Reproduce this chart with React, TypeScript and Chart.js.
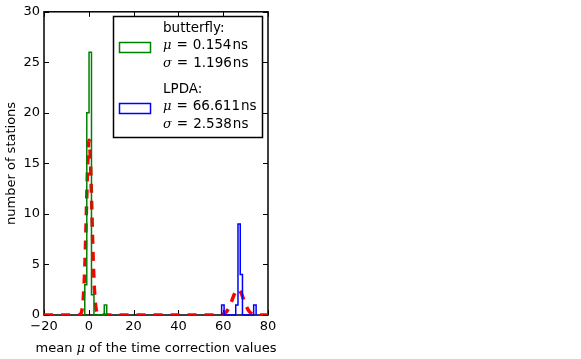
import React, { useEffect, useRef } from "react";
import { Chart, registerables } from "chart.js";

Chart.register(...registerables);

// Histogram bins (left edge, right edge, count)
const greenBinLeft = [-1.8, -0.9, 0.1, 1.2, 6.9];
const greenBinRight = [-0.9, 0.1, 1.2, 2.3, 8.0];
const greenCounts = [3, 20, 26, 2, 1];

const blueBinLeft = [59.3, 65.6, 66.6, 67.6, 73.6];
const blueBinRight = [60.4, 66.6, 67.6, 68.6, 74.7];
const blueCounts = [1, 1, 9, 4, 1];

// Red dashed fit curve
const fitX = [-20, -4.3, -3.5, -3, -2.5, -2, -1.5, -1, -0.5, 0.15, 0.8, 1.3, 1.8, 2.3, 2.8, 3.3, 3.8, 4.6, 20, 57, 60, 61, 62, 63, 64, 65, 66, 66.6, 67, 68, 69, 70, 71, 72, 73, 74.5, 80];
const fitY = [0, 0, 0.15, 0.55, 1.5, 3.5, 6.7, 10.9, 14.9, 17.3, 14.9, 10.9, 6.7, 3.5, 1.5, 0.55, 0.15, 0, 0, 0, 0.09, 0.22, 0.49, 0.92, 1.5, 2.07, 2.45, 2.52, 2.49, 2.17, 1.61, 1.03, 0.56, 0.26, 0.1, 0, 0];

const xTicks = [-20, 0, 20, 40, 60, 80];
const yTicks = [0, 5, 10, 15, 20, 25, 30];

const legendEntries = [
  { name: "butterfly:", mu: "0.154", sigma: "1.196", color: "rgb(0,128,0)" },
  { name: "LPDA:", mu: "66.611", sigma: "2.538", color: "rgb(0,0,255)" },
];

const xTitleParts = ["mean ", "\u03bc", " of the time correction values"];
const yTitle = "number of stations";

function stepOutline(left: number[], right: number[], counts: number[]) {
  const pts: { x: number; y: number }[] = [];
  pts.push({ x: left[0], y: 0 });
  for (let i = 0; i < counts.length; i++) {
    if (i > 0 && left[i] !== right[i - 1]) {
      pts.push({ x: right[i - 1], y: 0 });
      pts.push({ x: left[i], y: 0 });
    }
    pts.push({ x: left[i], y: counts[i] });
    pts.push({ x: right[i], y: counts[i] });
  }
  pts.push({ x: right[right.length - 1], y: 0 });
  return pts;
}

const SANS = "'DejaVu Sans', sans-serif";
const SERIF_IT = "italic 13px 'DejaVu Serif', serif";

const framePlugin = {
  id: "frame",
  beforeDatasetsDraw(chart: any) {
    const { ctx, chartArea: a, scales } = chart;
    ctx.save();
    ctx.strokeStyle = "#000";
    ctx.lineWidth = 1;
    const tl = 5;
    for (const v of xTicks) {
      const px = Math.round(scales.x.getPixelForValue(v)) + 0.5;
      ctx.beginPath();
      ctx.moveTo(px, a.bottom);
      ctx.lineTo(px, a.bottom - tl);
      ctx.moveTo(px, a.top);
      ctx.lineTo(px, a.top + tl);
      ctx.stroke();
    }
    for (const v of yTicks) {
      const py = Math.round(scales.y.getPixelForValue(v)) + 0.5;
      ctx.beginPath();
      ctx.moveTo(a.left, py);
      ctx.lineTo(a.left + tl, py);
      ctx.moveTo(a.right, py);
      ctx.lineTo(a.right - tl, py);
      ctx.stroke();
    }
    ctx.lineWidth = 1.5;
    ctx.strokeRect(a.left, a.top, a.right - a.left, a.bottom - a.top);
    ctx.restore();
  },
  afterDraw(chart: any) {
    const { ctx, chartArea: a } = chart;
    ctx.save();
    // axis titles
    ctx.fillStyle = "#000";
    ctx.textBaseline = "middle";
    const fonts = ["13px " + SANS, SERIF_IT, "13px " + SANS];
    let total = 0;
    const widths = xTitleParts.map((t, i) => {
      ctx.font = fonts[i];
      const w = ctx.measureText(t).width;
      total += w;
      return w;
    });
    let x = (a.left + a.right) / 2 - total / 2;
    xTitleParts.forEach((t, i) => {
      ctx.font = fonts[i];
      ctx.textAlign = "left";
      ctx.fillText(t, x, 349);
      x += widths[i];
    });
    ctx.save();
    ctx.translate(12, (a.top + a.bottom) / 2);
    ctx.rotate(-Math.PI / 2);
    ctx.font = "13px " + SANS;
    ctx.textAlign = "center";
    ctx.fillText(yTitle, 0, 0);
    ctx.restore();

    // legend
    const bx = 113.5, by = 16.5, bw = 149, bh = 121;
    ctx.fillStyle = "#fff";
    ctx.fillRect(bx, by, bw, bh);
    ctx.strokeStyle = "#000";
    ctx.lineWidth = 1.5;
    ctx.strokeRect(bx, by, bw, bh);
    const rowsTop = [28, 89];
    legendEntries.forEach((e, k) => {
      const y0 = rowsTop[k];
      ctx.strokeStyle = e.color;
      ctx.lineWidth = 1.5;
      ctx.strokeRect(119.5, y0 + 14.5, 31, 10);
      ctx.fillStyle = "#000";
      ctx.textAlign = "left";
      ctx.font = "13.5px " + SANS;
      ctx.fillText(e.name, 163, y0);
      const lines = [["\u03bc", e.mu], ["\u03c3", e.sigma]];
      lines.forEach(([sym, val], j) => {
        const yy = y0 + 17.5 + j * 18;
        let xx = 163;
        ctx.font = SERIF_IT;
        ctx.fillText(sym, xx, yy);
        xx += ctx.measureText(sym).width + 5;
        ctx.font = "13.5px " + SANS;
        ctx.fillText("=", xx, yy);
        xx += ctx.measureText("=").width + 5;
        ctx.fillText(val, xx, yy);
        xx += ctx.measureText(val).width + 1;
        ctx.fillText("ns", xx, yy);
      });
    });
    ctx.restore();
  },
};

export default function App() {
  const ref = useRef<HTMLCanvasElement | null>(null);
  useEffect(() => {
    if (!ref.current) return;
    const fitPts = fitX.map((x, i) => ({ x, y: fitY[i] }));
    const chart = new Chart(ref.current, {
      type: "line",
      data: {
        datasets: [
          {
            data: stepOutline(greenBinLeft, greenBinRight, greenCounts),
            borderColor: "rgb(0,128,0)",
            borderWidth: 1.5,
            pointRadius: 0,
            tension: 0,
            fill: false,
            clip: 1,
          },
          {
            data: stepOutline(blueBinLeft, blueBinRight, blueCounts),
            borderColor: "rgb(0,0,255)",
            borderWidth: 1.5,
            pointRadius: 0,
            tension: 0,
            fill: false,
            clip: 1,
          },
          {
            data: fitPts,
            borderColor: "rgb(255,0,0)",
            borderWidth: 3.5,
            borderDash: [9, 8],
            pointRadius: 0,
            cubicInterpolationMode: "monotone",
            fill: false,
            clip: 0,
          },
        ] as any,
      },
      options: {
        animation: false,
        responsive: false,
        devicePixelRatio: 1,
        layout: { padding: { left: 0, top: 8, right: 313, bottom: 0 } },
        plugins: {
          legend: { display: false },
          tooltip: { enabled: false },
        },
        scales: {
          x: {
            type: "linear",
            min: -20,
            max: 80,
            afterBuildTicks: (s: any) => {
              s.ticks = xTicks.map((v) => ({ value: v }));
            },
            afterFit: (s: any) => {
              s.height = 44;
            },
            grid: { display: false, drawTicks: false },
            border: { display: false },
            ticks: {
              color: "#000",
              font: { family: SANS, size: 13 },
              padding: 4,
              maxRotation: 0,
              callback: (v: any) => (v < 0 ? "\u2212" + Math.abs(v) : String(v)),
            },
          },
          y: {
            type: "linear",
            min: 0,
            max: 30,
            afterBuildTicks: (s: any) => {
              s.ticks = yTicks.map((v) => ({ value: v }));
            },
            afterFit: (s: any) => {
              s.width = 44;
            },
            grid: { display: false, drawTicks: false },
            border: { display: false },
            ticks: {
              color: "#000",
              font: { family: SANS, size: 13 },
              padding: 4,
            },
          },
        },
      } as any,
      plugins: [framePlugin],
    });
    return () => chart.destroy();
  }, []);
  return (
    <div style={{ position: "fixed", left: 0, top: 0, width: 581, height: 359, background: "#fff" }}>
      <canvas ref={ref} width={581} height={359} />
    </div>
  );
}
